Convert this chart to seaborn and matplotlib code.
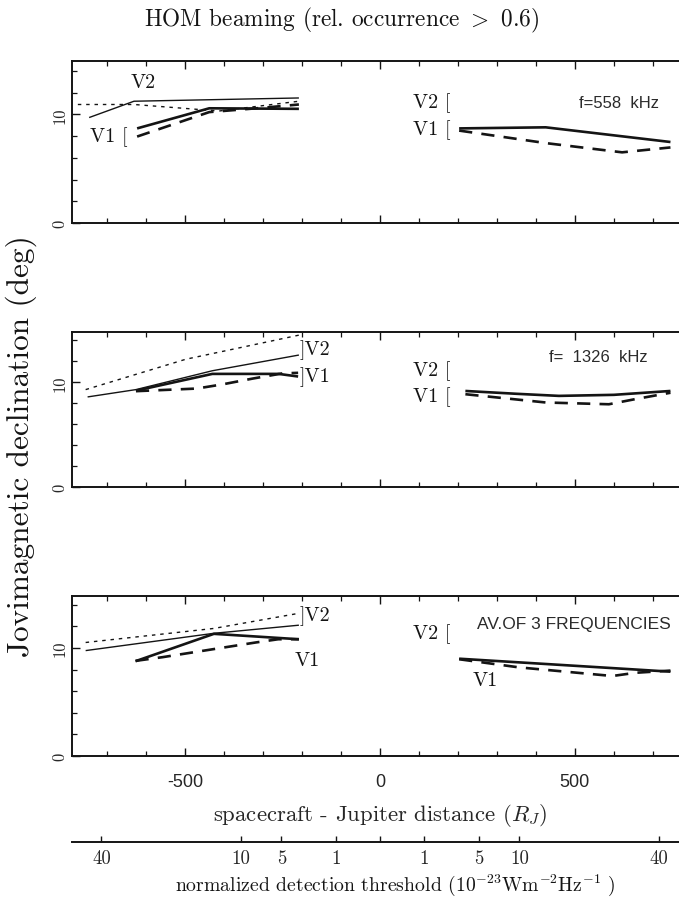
import matplotlib
matplotlib.use("Agg")
import matplotlib.pyplot as plt
import seaborn as sns
import numpy as np

sns.set_style("ticks")
plt.rcParams['font.family'] = ['cmr10', 'DejaVu Serif']
plt.rcParams['mathtext.fontset'] = 'cm'
plt.rcParams['axes.formatter.use_mathtext'] = True

# ---------------- data (distance in R_J, declination in deg) ----------------
# Panel 1 : f = 558 kHz
p1_v2_solid_x = [-746, -631, -208]
p1_v2_solid_y = [9.7, 11.2, 11.5]
p1_v2_dot_x = [-775, -631, -413, -208]
p1_v2_dot_y = [10.9, 10.9, 10.3, 11.2]
p1_v1_solid_x = [-623, -438, -208]
p1_v1_solid_y = [8.7, 10.55, 10.5]
p1_v1_dash_x = [-623, -438, -300, -208]
p1_v1_dash_y = [7.95, 10.2, 10.6, 10.9]
p1_v1r_solid_x = [203, 425, 745]
p1_v1r_solid_y = [8.7, 8.8, 7.45]
p1_v1r_dash_x = [203, 425, 621, 745]
p1_v1r_dash_y = [8.5, 7.35, 6.5, 6.95]

# Panel 2 : f = 1326 kHz
p2_v2_dot_x = [-755, -498, -208]
p2_v2_dot_y = [9.3, 12.2, 14.5]
p2_v2_solid_x = [-750, -626, -430, -208]
p2_v2_solid_y = [8.6, 9.3, 11.1, 12.6]
p2_v1_solid_x = [-626, -430, -260, -210]
p2_v1_solid_y = [9.2, 10.8, 10.8, 10.55]
p2_v1_dash_x = [-626, -470, -404, -327, -250, -210]
p2_v1_dash_y = [9.15, 9.4, 9.8, 10.35, 10.85, 10.9]
p2_v1r_solid_x = [219, 350, 459, 600, 745]
p2_v1r_solid_y = [9.17, 8.9, 8.7, 8.8, 9.17]
p2_v1r_dash_x = [219, 425, 587, 656, 745]
p2_v1r_dash_y = [8.86, 8.07, 7.9, 8.4, 9.0]

# Panel 3 : average of 3 frequencies
p3_v2_dot_x = [-755, -426, -208]
p3_v2_dot_y = [10.5, 11.8, 13.2]
p3_v2_solid_x = [-755, -426, -208]
p3_v2_solid_y = [9.75, 11.35, 12.1]
p3_v1_solid_x = [-627, -426, -208]
p3_v1_solid_y = [8.77, 11.3, 10.8]
p3_v1_dash_x = [-627, -558, -319, -261, -208]
p3_v1_dash_y = [8.8, 9.14, 10.5, 10.8, 10.8]
p3_v1r_solid_x = [203, 430, 745]
p3_v1r_solid_y = [9.0, 8.5, 7.8]
p3_v1r_dash_x = [203, 356, 596, 656, 745]
p3_v1r_dash_y = [8.95, 8.2, 7.4, 7.7, 7.9]

panel_titles = ["f=558  kHz", "f=  1326  kHz", "AV.OF 3 FREQUENCIES"]
dist_ticks = [-500, 0, 500]
dist_tick_labels = ["-500", "0", "500"]
thr_labels = [40, 10, 5, 1, 1, 5, 10, 40]
thr_sign = [-1, -1, -1, -1, 1, 1, 1, 1]

INK = "#141414"
STY = {
    "v2_solid": dict(lw=1.0, dashes=()),
    "v2_dot": dict(lw=1.0, dashes=(2.5, 3.5)),
    "v1_solid": dict(lw=1.9, dashes=()),
    "v1_dash": dict(lw=1.9, dashes=(5, 3.5)),
}

def draw(ax, x, y, key):
    s = STY[key]
    sns.lineplot(x=x, y=y, ax=ax, color=INK, lw=s["lw"], estimator=None, sort=False)
    ln = ax.lines[-1]
    if s["dashes"]:
        ln.set_dashes(s["dashes"])
    ln.set_solid_capstyle("butt")

fig = plt.figure(figsize=(6.79, 9.03), dpi=100)
L, W = 72 / 679, 616 / 679
XL = (-790, 790)
H = 903
boxes = [(62, 224, 14.9), (333, 488, 14.8), (597, 757, 14.8)]

axes = []
for top, bot, ymax in boxes:
    ax = fig.add_axes([L, 1 - bot / H, W, (bot - top) / H])
    ax.set_xlim(*XL)
    ax.set_ylim(0, ymax)
    for sp in ax.spines.values():
        sp.set_linewidth(1.4)
        sp.set_color(INK)
    ax.set_xticks(dist_ticks)
    ax.set_xticks(np.arange(-700, 701, 100), minor=True)
    ax.set_yticks([0, 10])
    ax.set_yticks(np.arange(2, 15, 2), minor=True)
    ax.tick_params(which="both", direction="in", top=True, right=True, color=INK)
    ax.tick_params(which="major", length=6, width=1.0)
    ax.tick_params(which="minor", length=3.5, width=0.9)
    ax.set_yticklabels(["0", "10"], rotation=90, va="center", fontsize=12)
    ax.tick_params(axis="y", pad=3)
    ax.set_xticklabels([])
    axes.append(ax)

ax1, ax2, ax3 = axes

# Panel 1
draw(ax1, p1_v2_dot_x, p1_v2_dot_y, "v2_dot")
draw(ax1, p1_v2_solid_x, p1_v2_solid_y, "v2_solid")
draw(ax1, p1_v1_dash_x, p1_v1_dash_y, "v1_dash")
draw(ax1, p1_v1_solid_x, p1_v1_solid_y, "v1_solid")
draw(ax1, p1_v1r_dash_x, p1_v1r_dash_y, "v1_dash")
draw(ax1, p1_v1r_solid_x, p1_v1r_solid_y, "v1_solid")
# Panel 2
draw(ax2, p2_v2_dot_x, p2_v2_dot_y, "v2_dot")
draw(ax2, p2_v2_solid_x, p2_v2_solid_y, "v2_solid")
draw(ax2, p2_v1_dash_x, p2_v1_dash_y, "v1_dash")
draw(ax2, p2_v1_solid_x, p2_v1_solid_y, "v1_solid")
draw(ax2, p2_v1r_dash_x, p2_v1r_dash_y, "v1_dash")
draw(ax2, p2_v1r_solid_x, p2_v1r_solid_y, "v1_solid")
# Panel 3
draw(ax3, p3_v2_dot_x, p3_v2_dot_y, "v2_dot")
draw(ax3, p3_v2_solid_x, p3_v2_solid_y, "v2_solid")
draw(ax3, p3_v1_dash_x, p3_v1_dash_y, "v1_dash")
draw(ax3, p3_v1_solid_x, p3_v1_solid_y, "v1_solid")
draw(ax3, p3_v1r_dash_x, p3_v1r_dash_y, "v1_dash")
draw(ax3, p3_v1r_solid_x, p3_v1r_solid_y, "v1_solid")

lab = dict(fontsize=14.5, color=INK, va="center", ha="left")
sans = dict(family=["Liberation Sans", "DejaVu Sans"], color="#2a2a2a", va="center", ha="left")

ax1.text(-640, 13.0, "V2", **lab)
ax1.text(-745, 8.0, "V1 [", **lab)
ax1.text(85, 11.1, "V2 [", **lab)
ax1.text(85, 8.6, "V1 [", **lab)
ax1.text(510, 11.1, panel_titles[0], fontsize=12, **sans)

ax2.text(-205, 13.2, "]V2", **lab)
ax2.text(-205, 10.6, "]V1", **lab)
ax2.text(85, 11.2, "V2 [", **lab)
ax2.text(85, 8.7, "V1 [", **lab)
ax2.text(433, 12.5, panel_titles[1], fontsize=12, **sans)

ax3.text(-205, 13.0, "]V2", **lab)
ax3.text(-220, 8.9, "V1", **lab)
ax3.text(85, 11.4, "V2 [", **lab)
ax3.text(238, 7.0, "V1", **lab)
ax3.text(250, 12.3, panel_titles[2], fontsize=12.5, **sans)

# bottom distance tick labels
ax3.set_xticklabels(dist_tick_labels, family=["Liberation Sans", "DejaVu Sans"], fontsize=13)
ax3.tick_params(axis="x", which="major", pad=12)
ax3.set_xlabel("spacecraft - Jupiter distance ($R_J$)", fontsize=16.4, labelpad=8)

# threshold axis (threshold ~ (d/113)^2)
axt = fig.add_axes([L, 1 - 843 / H, W, 0.0001])
axt.set_xlim(*XL)
axt.set_ylim(0, 1)
for k in ["left", "right", "top"]:
    axt.spines[k].set_visible(False)
axt.spines["bottom"].set_linewidth(1.4)
axt.spines["bottom"].set_color(INK)
axt.set_yticks([])
thr_pos = [s * 113 * np.sqrt(t) for s, t in zip(thr_sign, thr_labels)]
axt.set_xticks(thr_pos + [0])
axt.set_xticklabels([str(t) for t in thr_labels] + [""], fontsize=13.5)
axt.tick_params(axis="x", direction="in", length=4, width=1.0, color=INK, pad=5)

fig.text(395 / 679, 1 - 885 / H, "normalized detection threshold ($10^{-23}$Wm$^{-2}$Hz$^{-1}$ )",
         fontsize=14.2, ha="center", va="center", color=INK)
fig.text(0.503, 1 - 20 / H, "HOM beaming (rel. occurrence $>$ 0.6)",
         fontsize=16.8, ha="center", va="center", color=INK)
fig.text(0.032, 1 - 446 / H, "Jovimagnetic declination (deg)", rotation=90,
         fontsize=22.5, ha="center", va="center", color=INK)

fig.savefig("out.png", dpi=100)
